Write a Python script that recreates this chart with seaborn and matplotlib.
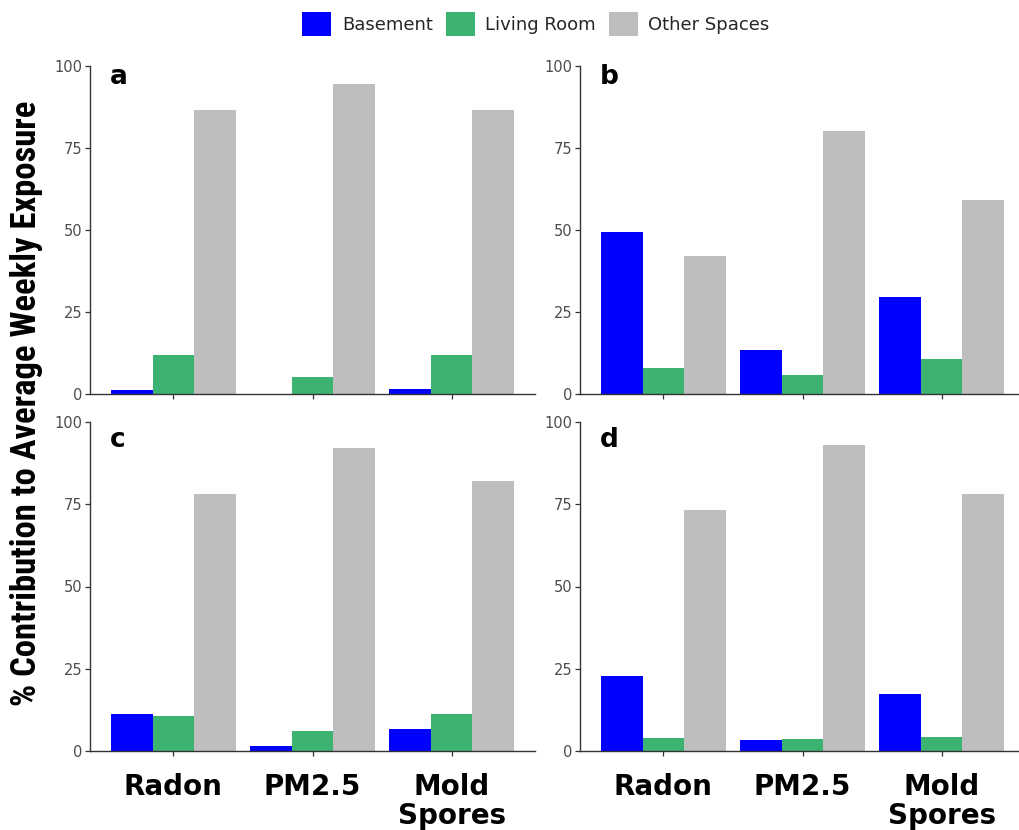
import matplotlib
matplotlib.use("Agg")
import matplotlib.pyplot as plt
from matplotlib import font_manager
import seaborn as sns
import pandas as pd

# Pollutant categories and room locations
pollutants = ["Radon", "PM2.5", "Mold\nSpores"]
locations = ["Basement", "Living Room", "Other Spaces"]

# % contribution to average weekly exposure, per panel (Radon, PM2.5, Mold Spores)
basement_a = [1.2, 0.0, 1.4]
living_a = [11.8, 5.1, 11.9]
other_a = [86.7, 94.6, 86.5]

basement_b = [49.5, 13.5, 29.7]
living_b = [7.8, 5.9, 10.7]
other_b = [42.1, 80.2, 59.1]

basement_c = [11.3, 1.4, 6.7]
living_c = [10.5, 6.2, 11.2]
other_c = [78.0, 92.1, 82.1]

basement_d = [22.7, 3.3, 17.3]
living_d = [3.9, 3.7, 4.2]
other_d = [73.4, 92.9, 78.2]

y_ticks = [0, 25, 50, 75, 100]

panels = {
    "a": (basement_a, living_a, other_a),
    "b": (basement_b, living_b, other_b),
    "c": (basement_c, living_c, other_c),
    "d": (basement_d, living_d, other_d),
}

palette = {"Basement": "#0000FF", "Living Room": "#3CB371", "Other Spaces": "#BEBEBE"}

sns.set_theme(style="white")
plt.rcParams["font.family"] = ["DejaVu Sans"]

# pick a condensed bold face for the y-axis title when one is installed
bold_faces = {f.name for f in font_manager.fontManager.ttflist
              if (f.weight == "bold" or f.weight == 700 or
                  (isinstance(f.weight, int) and f.weight >= 600))
              and f.stretch in ("condensed", "semi-condensed", "extra-condensed",
                                "ultra-condensed")}
label_family = "Liberation Sans"
for cand in ["Liberation Sans Narrow", "DejaVu Sans Condensed", "Roboto Condensed",
             "Open Sans Condensed", "Noto Sans Condensed"]:
    if cand in bold_faces:
        label_family = cand
        break

W, H = 1019, 830
fig = plt.figure(figsize=(W / 100, H / 100), dpi=100)

# axes boxes in pixels: (left, top, width, height)
boxes = {
    "a": (90, 66, 445, 328),
    "b": (580, 66, 445, 328),
    "c": (90, 422, 445, 329),
    "d": (580, 422, 445, 329),
}

axes = {}
for key, (l, t, w, h) in boxes.items():
    ax = fig.add_axes([l / W, (H - t - h) / H, w / W, h / H])
    axes[key] = ax
    bvals, lvals, ovals = panels[key]
    rows = []
    for loc, vals in zip(locations, (bvals, lvals, ovals)):
        for p, v in zip(pollutants, vals):
            rows.append({"Pollutant": p, "Location": loc, "Value": v})
    df = pd.DataFrame(rows)
    sns.barplot(data=df, x="Pollutant", y="Value", hue="Location",
                order=pollutants, hue_order=locations, palette=palette,
                width=0.9, gap=0, errorbar=None, saturation=1,
                edgecolor="none", linewidth=0, ax=ax, legend=(key == "a"))
    ax.set_xlim(-0.6, 2.6)
    ax.set_ylim(0, 100)
    ax.set_yticks(y_ticks)
    ax.set_xlabel("")
    ax.set_ylabel("")
    for s in ["top", "right"]:
        ax.spines[s].set_visible(False)
    for s in ["left", "bottom"]:
        ax.spines[s].set_color("#333333")
        ax.spines[s].set_linewidth(1.0)
    ax.tick_params(axis="both", which="both", direction="out", length=3.5,
                   width=0.9, color="#333333", left=True, bottom=True)
    ax.tick_params(axis="y", labelsize=10.5, labelcolor="#4d4d4d", pad=2)
    if key in ("a", "b"):
        ax.tick_params(axis="x", labelbottom=False)
    else:
        ax.tick_params(axis="x", pad=12)
        for lab in ax.get_xticklabels():
            lab.set_fontsize(20)
            lab.set_fontweight("bold")
            lab.set_color("black")
            lab.set_linespacing(1.05)
    yb = 0.945 if key in ("a", "b") else 0.924
    ax.text(0.045, yb, key, transform=ax.transAxes, fontsize=19,
            fontweight="bold", color="black", va="baseline", ha="left")

# shared legend across the top
handles, labels = axes["a"].get_legend_handles_labels()
axes["a"].get_legend().remove()
fig.legend(handles, labels, loc="center", bbox_to_anchor=(536 / W, 1 - 24 / H),
           ncol=3, frameon=False, fontsize=13, handlelength=1.6,
           handleheight=1.6, handletextpad=0.6, columnspacing=0.7)

ylab = fig.text(27 / W, 1 - 403 / H, "% Contribution to Average Weekly Exposure",
                rotation=90, ha="center", va="center", fontsize=21,
                fontweight="bold", family=label_family, color="black")

# size the y-axis title so it spans the height of both panel rows
renderer = fig.canvas.get_renderer()
ext = ylab.get_window_extent(renderer)
ylab.set_fontsize(21 * 605 / ext.height)

fig.savefig("out.png", dpi=100)
